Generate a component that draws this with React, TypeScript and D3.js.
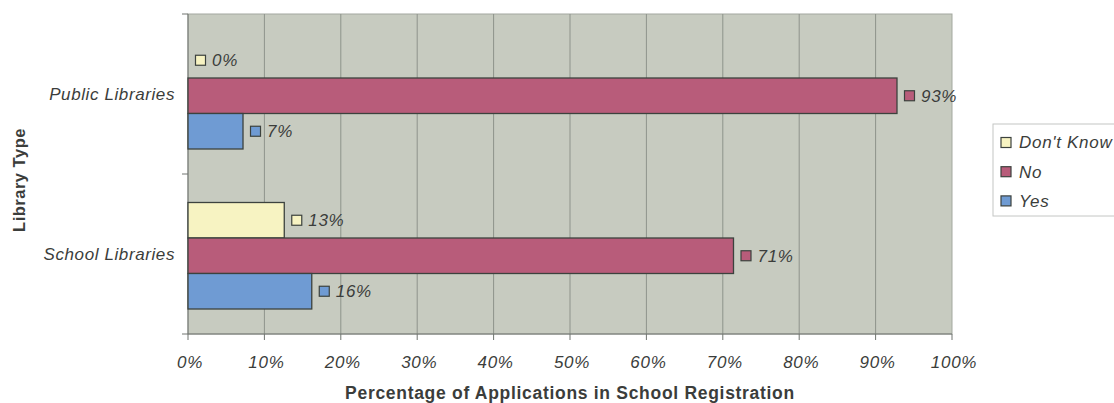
import * as d3 from "d3";

const categories = ["Public Libraries", "School Libraries"];
const seriesNames = ["Don't Know", "No", "Yes"];
// percent values per category, in series order
const dontKnow = [0, 12.6];
const no = [92.8, 71.4];
const yes = [7.2, 16.2];
const xTicks = [0, 10, 20, 30, 40, 50, 60, 70, 80, 90, 100];

const colors: Record<string, string> = {
  "Don't Know": "#f7f3c2",
  No: "#b85c7a",
  Yes: "#6f9bd3",
};

const seriesValues: Record<string, number[]> = {
  "Don't Know": dontKnow,
  No: no,
  Yes: yes,
};

const font = "'Liberation Sans', Arial, Helvetica, sans-serif";
const textColor = "#3b3d3b";

const App = () => {
  const width = 1114;
  const height = 403;
  const plot = { left: 188, right: 952, top: 14, bottom: 334 };

  const x = d3.scaleLinear().domain([0, 100]).range([plot.left, plot.right]);
  const y = d3
    .scaleBand<string>()
    .domain(categories)
    .range([plot.top, plot.bottom]);
  const inner = d3
    .scaleBand<string>()
    .domain(seriesNames)
    .range([28.5, 135]);

  const fmt = (v: number) => `${Math.round(v)}%`;

  return (
    <svg
      width={width}
      height={height}
      style={{ position: "absolute", left: 0, top: 0, background: "#fff" }}
      fontFamily={font}
    >
      <rect
        x={plot.left}
        y={plot.top}
        width={plot.right - plot.left}
        height={plot.bottom - plot.top}
        fill="#c7cbc0"
        stroke="#a3a89f"
        strokeWidth={1}
      />
      {xTicks.slice(1, -1).map((t) => (
        <line
          key={`g${t}`}
          x1={x(t)}
          x2={x(t)}
          y1={plot.top}
          y2={plot.bottom}
          stroke="#8e938b"
          strokeWidth={1}
        />
      ))}
      {/* axes */}
      <line x1={plot.left} x2={plot.left} y1={plot.top} y2={plot.bottom} stroke="#707570" />
      <line x1={plot.left} x2={plot.right} y1={plot.bottom} y2={plot.bottom} stroke="#707570" />
      {xTicks.map((t) => (
        <g key={`t${t}`}>
          <line x1={x(t)} x2={x(t)} y1={plot.bottom} y2={plot.bottom + 6} stroke="#707570" />
          <text
            x={x(t) + 2}
            y={368}
            textAnchor="middle"
            fontSize={17}
            fontStyle="italic"
            letterSpacing={0.7}
            fill={textColor}
          >
            {`${t}%`}
          </text>
        </g>
      ))}
      {[plot.top, ...categories.map((c) => y(c)! + y.bandwidth())].map((v, i) => (
        <line key={`yt${i}`} x1={plot.left - 6} x2={plot.left} y1={v} y2={v} stroke="#707570" />
      ))}
      {categories.map((c) => (
        <text
          key={c}
          x={175}
          y={y(c)! + y.bandwidth() / 2}
          dy="0.35em"
          textAnchor="end"
          fontSize={17}
          fontStyle="italic"
          letterSpacing={0.6}
          fill={textColor}
        >
          {c}
        </text>
      ))}
      {/* bars */}
      {categories.map((c, ci) =>
        seriesNames.map((s) => {
          const v = seriesValues[s][ci];
          const by = y(c)! + inner(s)!;
          const bh = inner.bandwidth();
          const end = x(v);
          const cy = by + bh / 2;
          return (
            <g key={`${c}-${s}`}>
              {v > 0 && (
                <rect
                  x={plot.left}
                  y={by}
                  width={end - plot.left}
                  height={bh}
                  fill={colors[s]}
                  stroke="#3c423e"
                  strokeWidth={1.3}
                />
              )}
              <rect
                x={end + 7.5}
                y={cy - 5}
                width={10}
                height={10}
                fill={colors[s]}
                stroke="#3c423e"
                strokeWidth={1.2}
              />
              <text
                x={end + 24}
                y={cy}
                dy="0.35em"
                fontSize={17}
                fontStyle="italic"
                letterSpacing={0.7}
                fill={textColor}
              >
                {fmt(v)}
              </text>
            </g>
          );
        })
      )}
      {/* axis titles */}
      <text
        x={(plot.left + plot.right) / 2}
        y={399}
        textAnchor="middle"
        fontSize={17.5}
        fontWeight="bold"
        letterSpacing={0.7}
        fill={textColor}
      >
        Percentage of Applications in School Registration
      </text>
      <text
        transform={`translate(25, 180) rotate(-90)`}
        textAnchor="middle"
        fontSize={16.5}
        fontWeight="bold"
        letterSpacing={0.5}
        fill={textColor}
      >
        Library Type
      </text>
      {/* legend */}
      <rect x={993} y={124} width={140} height={92} fill="#fff" stroke="#c4c6c4" />
      {seriesNames.map((s, i) => {
        const cy = 142.5 + i * 29.2;
        return (
          <g key={`l${s}`}>
            <rect
              x={1001}
              y={cy - 5}
              width={10}
              height={10}
              fill={colors[s]}
              stroke="#3c423e"
              strokeWidth={1.2}
            />
            <text
              x={1019}
              y={cy}
              dy="0.35em"
              fontSize={17}
              fontStyle="italic"
              letterSpacing={0.7}
              fill={textColor}
            >
              {s}
            </text>
          </g>
        );
      })}
    </svg>
  );
};

export default App;
